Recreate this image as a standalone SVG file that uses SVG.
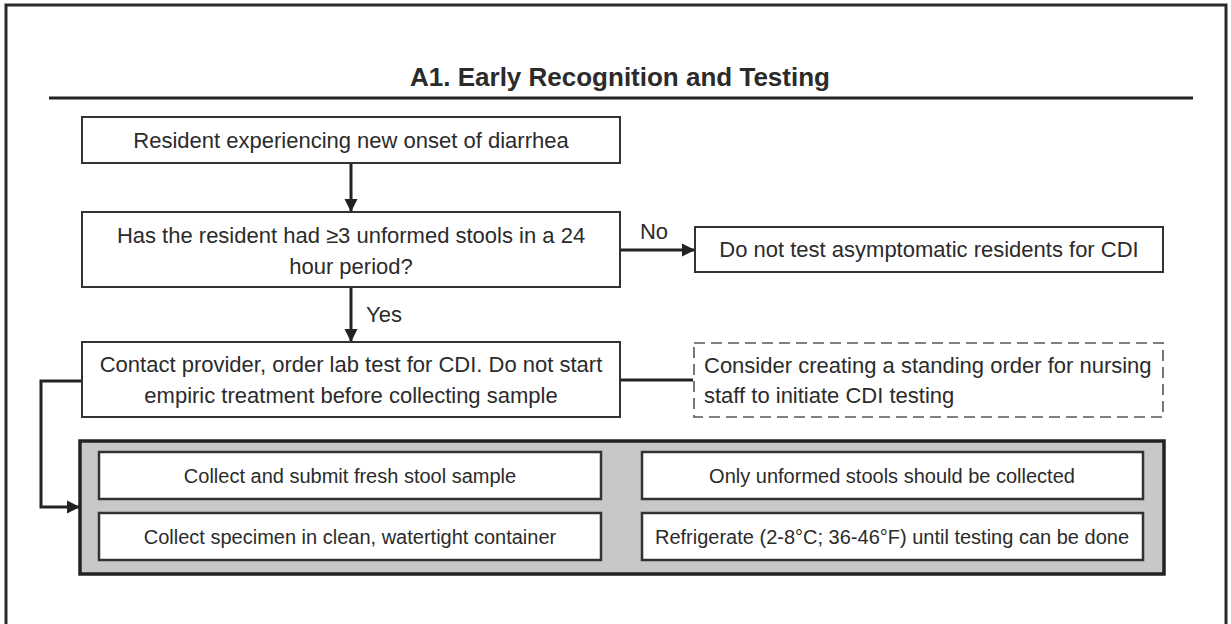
<svg xmlns="http://www.w3.org/2000/svg" width="1231" height="624" viewBox="0 0 1231 624">
<defs>
<marker id="ah" viewBox="0 0 10 10" refX="10" refY="5" markerWidth="4.5" markerHeight="4.5" markerUnits="strokeWidth" orient="auto">
<path d="M0,0 L10,5 L0,10 z" fill="#222"/>
</marker>
</defs>
<style>
.t{font-family:"Liberation Sans",Arial,sans-serif;fill:#2b2b2b;}
.m{font-size:22px;}
.s{font-size:20px;}
.box{fill:#fff;stroke:#333;stroke-width:2;}
.ibox{fill:#fff;stroke:#333;stroke-width:2.5;}
.con{fill:none;stroke:#222;stroke-width:3;}
</style>
<rect x="0" y="0" width="1231" height="624" fill="#fff"/>
<rect x="6" y="5" width="1220" height="700" fill="none" stroke="#2a2a2a" stroke-width="3"/>
<text class="t" x="620" y="86" text-anchor="middle" font-size="26" font-weight="bold">A1. Early Recognition and Testing</text>
<line x1="49" y1="98" x2="1193" y2="98" stroke="#222" stroke-width="3"/>

<g id="connectors">
<line class="con" x1="351" y1="163" x2="351" y2="212" marker-end="url(#ah)"/>
<line class="con" x1="620" y1="250" x2="695" y2="250" marker-end="url(#ah)"/>
<line class="con" x1="351" y1="287" x2="351" y2="342" marker-end="url(#ah)"/>
<line class="con" x1="620" y1="380" x2="693" y2="380"/>
<polyline class="con" points="82,381 41,381 41,507 80,507" marker-end="url(#ah)"/>
<line class="con" x1="601" y1="476" x2="642" y2="476"/>
<line class="con" x1="601" y1="537" x2="642" y2="537"/>
<text class="t m" x="654" y="239" text-anchor="middle">No</text>
<text class="t m" x="366" y="322">Yes</text>
</g>

<g id="n1">
<rect class="box" x="82" y="117" width="538" height="46"/>
<text class="t m" x="351" y="148" text-anchor="middle">Resident experiencing new onset of diarrhea</text>
</g>
<g id="n2">
<rect class="box" x="82" y="212" width="538" height="75"/>
<text class="t m" x="351" y="243" text-anchor="middle">Has the resident had ≥3 unformed stools in a 24</text>
<text class="t m" x="351" y="274" text-anchor="middle">hour period?</text>
</g>
<g id="n3">
<rect class="box" x="695" y="227" width="468" height="45"/>
<text class="t m" x="929" y="257" text-anchor="middle">Do not test asymptomatic residents for CDI</text>
</g>
<g id="n4">
<rect class="box" x="82" y="342" width="538" height="75"/>
<text class="t m" x="351" y="372" text-anchor="middle">Contact provider, order lab test for CDI. Do not start</text>
<text class="t m" x="351" y="403" text-anchor="middle">empiric treatment before collecting sample</text>
</g>
<g id="n5">
<rect x="694" y="343" width="469" height="74" fill="#fff" stroke="#555" stroke-width="1.6" stroke-dasharray="11,6"/>
<text class="t m" x="704" y="373">Consider creating a standing order for nursing</text>
<text class="t m" x="704" y="403">staff to initiate CDI testing</text>
</g>
<g id="n6">
<rect x="80" y="441" width="1084" height="133" fill="#c8c8c8" stroke="#222" stroke-width="3.5"/>
</g>
<g id="n7">
<rect class="ibox" x="99" y="452" width="502" height="47"/>
<text class="t s" x="350" y="483" text-anchor="middle">Collect and submit fresh stool sample</text>
</g>
<g id="n8">
<rect class="ibox" x="642" y="452" width="501" height="47"/>
<text class="t s" x="892" y="483" text-anchor="middle">Only unformed stools should be collected</text>
</g>
<g id="n9">
<rect class="ibox" x="99" y="513" width="502" height="47"/>
<text class="t s" x="350" y="544" text-anchor="middle">Collect specimen in clean, watertight container</text>
</g>
<g id="n10">
<rect class="ibox" x="642" y="513" width="501" height="47"/>
<text class="t s" x="892" y="544" text-anchor="middle">Refrigerate (2-8°C; 36-46°F) until testing can be done</text>
</g>
</svg>
